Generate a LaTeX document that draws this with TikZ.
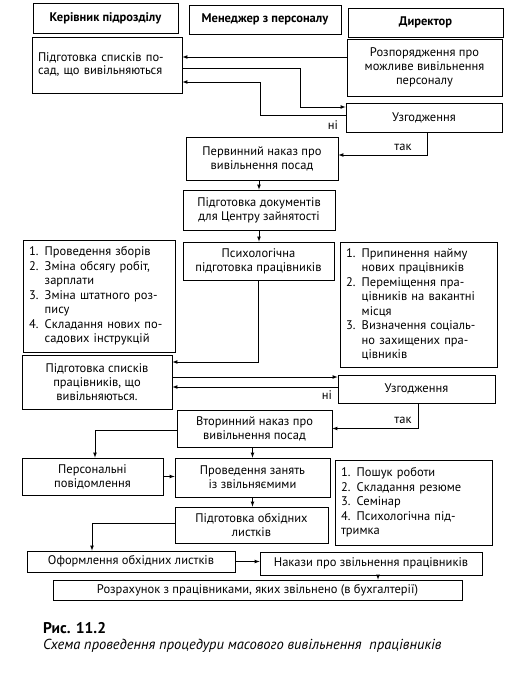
\documentclass[tikz,border=0pt]{standalone}
\usepackage{fontspec}
\setmainfont{PT Sans}
\usetikzlibrary{arrows, positioning}

\begin{document}
\begin{tikzpicture}[x=1pt, y=-1pt]
\tikzstyle{box} = [rectangle, draw, line width=0.8pt, inner sep=0pt, align=center, font=\fontsize{12.5pt}{14pt}\selectfont]
\tikzstyle{header} = [box, font=\fontsize{12.5pt}{14pt}\selectfont\bfseries]
\tikzstyle{listbox} = [rectangle, draw, line width=0.8pt, inner xsep=6pt, inner ysep=0pt, align=left, font=\fontsize{12.5pt}{14.5pt}\selectfont]
\tikzstyle{note} = [inner sep=0pt, font=\fontsize{12.5pt}{14pt}\selectfont]
\tikzstyle{arr} = [-latex, line width=0.7pt]

\useasboundingbox (0,0) rectangle (516,674);

\node (kerivnyk) [header, minimum width=145pt, minimum height=30pt] at (105.5,18) {Керівник підрозділу};
\node (menedzher) [header, minimum width=152pt, minimum height=29pt] at (265,19.5) {Менеджер з персоналу};
\node (dyrektor) [header, minimum width=155pt, minimum height=29pt] at (425.5,22.5) {Директор};

\node (spysk1) [listbox, text width=138pt, minimum height=56pt, font=\fontsize{12.5pt}{13pt}\selectfont] at (107,65) {Підготовка списків по-\\сад, що вивільняються};
\node (rozp) [box, minimum width=155pt, minimum height=57pt] at (424.5,67.5) {Розпорядження про\\можливе вивільнення\\персоналу};
\node (uzg1) [box, minimum width=156pt, minimum height=29pt] at (424,117.5) {Узгодження};
\node (pervyn) [box, minimum width=152pt, minimum height=43pt] at (262,158.5) {Первинний наказ про\\вивільнення посад};
\node (dokum) [box, minimum width=152pt, minimum height=40pt] at (259,210) {Підготовка документів\\для Центру зайнятості};
\node (psykh) [box, minimum width=151pt, minimum height=38pt] at (258.5,261) {Психологічна\\підготовка працівників};

\node (list1) [listbox, text width=140pt, minimum height=112pt] at (99,296) {1. Проведення зборів\\2. Зміна обсягу робіт,\\\phantom{2. }зарплати\\3. Зміна штатного роз-\\\phantom{3. }пису\\4. Складання нових по-\\\phantom{4. }садових інструкцій};
\node (list2) [listbox, text width=145pt, minimum height=125pt] at (418.5,304.5) {1. Припинення найму\\\phantom{1. }нових працівників\\2. Переміщення пра-\\\phantom{2. }цівників на вакантні\\\phantom{2. }місця\\3. Визначення соціаль-\\\phantom{3. }но захищених пра-\\\phantom{3. }цівників};

\node (spysk2) [box, minimum width=150pt, minimum height=54pt] at (97,382) {Підготовка списків\\працівників, що\\вивільняються.};
\node (uzg2) [box, minimum width=157pt, minimum height=28pt] at (416.5,389) {Узгодження};
\node (vtoryn) [box, minimum width=155pt, minimum height=37pt] at (254.5,428.5) {Вторинний наказ про\\вивільнення посад};
\node (person) [box, minimum width=141pt, minimum height=37pt] at (92.5,476.5) {Персональні\\повідомлення};
\node (zanyattya) [box, minimum width=155pt, minimum height=39pt] at (252.5,477.5) {Проведення занять\\із звільняємими};
\node (obkhid) [box, minimum width=153pt, minimum height=36pt] at (251.5,525) {Підготовка обхідних\\листків};
\node (list3) [listbox, text width=145pt, minimum height=85pt] at (413.5,502.5) {1. Пошук роботи\\2. Складання резюме\\3. Семінар\\4. Психологічна під-\\тримка};
\node (oform) [box, minimum width=208pt, minimum height=21pt] at (131,561.5) {Оформлення обхідних листків};
\node (nakazy) [box, minimum width=222pt, minimum height=23pt] at (371,563.5) {Накази про звільнення працівників};
\node (rozrakh) [box, minimum width=409pt, minimum height=20pt] at (257.5,590) {Розрахунок з працівниками, яких звільнено (в бухгалтерії)};

\node (ni1) [note] at (333,125) {ні};
\node (tak1) [note] at (403,147) {так};
\node (ni2) [note] at (327,395) {ні};
\node (tak2) [note] at (403,420) {так};

\node (fig) [inner sep=0pt, anchor=west, font=\fontsize{15.5pt}{18pt}\selectfont\bfseries] at (43,628) {Рис. 11.2};
\node (caption) [inner sep=0pt, anchor=west, font=\fontsize{14.5pt}{17pt}\selectfont\itshape] at (43,646) {Схема проведення процедури масового вивільнення\ \ працівників};

\draw[arr] ([yshift=10.5pt]rozp.west) -- ([yshift=10.5pt]rozp.west -| spysk1.east);
\draw[arr] ([yshift=-3pt]spysk1.east) -- (300,68) |- ([yshift=10.5pt]uzg1.west);
\draw[arr] ([yshift=2.5pt]uzg1.west) -| (260,82) -- ([yshift=-17pt]spysk1.east);
\draw[arr] ([xshift=3pt]uzg1.south) |- ([yshift=3.5pt]pervyn.east);
\draw[arr] (pervyn.south -| dokum.north) -- (dokum.north);
\draw[arr] (dokum.south) -- (dokum.south |- psykh.north);
\draw[arr] (psykh.south) |- ([yshift=20pt]spysk2.east);
\draw[arr] ([yshift=12pt]uzg2.west -| spysk2.east) -- ([yshift=12pt]uzg2.west);
\draw[arr] ([yshift=2pt]uzg2.west) -- ([yshift=2pt]uzg2.west -| spysk2.east);
\draw[arr] ([xshift=1.5pt]uzg2.south) |- (vtoryn.east);
\draw[arr] ([yshift=-1.5pt]vtoryn.west) -| ([xshift=2.5pt]person.north);
\draw[arr] (vtoryn.south -| zanyattya.north) -- (zanyattya.north);
\draw[arr] (person.east) -- (person.east -| zanyattya.west);
\draw[arr] (zanyattya.south) -- (zanyattya.south |- obkhid.north);
\draw[arr] ([yshift=2pt]obkhid.west) -| ([xshift=-39pt]oform.north);
\draw[arr] (oform.east) -- (oform.east -| nakazy.west);
\draw[arr] ([xshift=7pt]nakazy.south) -- ([xshift=7pt]nakazy.south |- rozrakh.north);
\end{tikzpicture}
\end{document}
